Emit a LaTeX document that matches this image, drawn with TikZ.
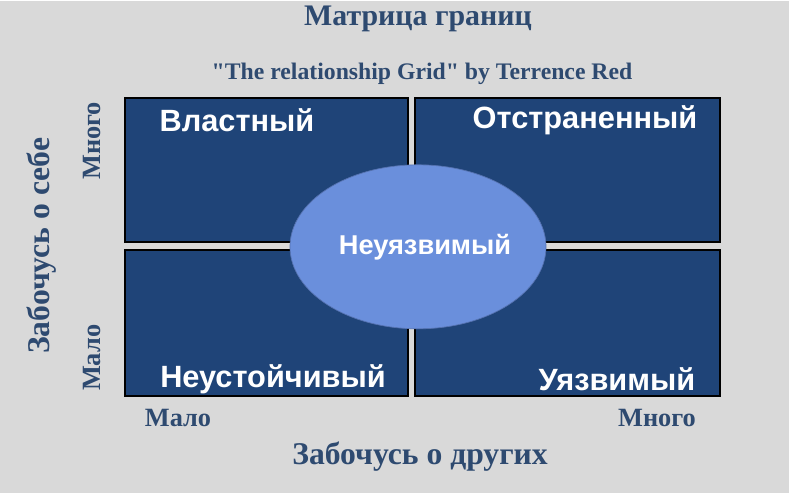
\documentclass[tikz,border=0pt]{standalone}
\usepackage{fontspec}
\setmainfont{Liberation Serif}
\setsansfont{Liberation Sans}
\newfontfamily\plainserif{Liberation Serif}
\usetikzlibrary{positioning}
\definecolor{bgGray}{HTML}{D9D9D9}
\definecolor{boxBlue}{HTML}{1F4478}
\definecolor{ovalBlue}{HTML}{6A8FDC}
\definecolor{titleBlue}{HTML}{2E4A70}
\tikzset{
	quad/.style = {draw = black, thick, fill = boxBlue},
	quadlabel/.style = {text = white, font = \sffamily\bfseries\fontsize{17.5}{20}\selectfont},
	axislabel/.style = {text = titleBlue, font = \bfseries\fontsize{15}{17}\selectfont}
}
\begin{document}
\begin{tikzpicture}[x = 0.02cm, y = -0.02cm]
	\fill[bgGray] (0, 0) rectangle (789, 492);
	
	\node[text = titleBlue, font = \bfseries\fontsize{17}{19}\selectfont] (title) at (418, 18) {Матрица границ};
	\node[text = titleBlue, font = \plainserif\bfseries\fontsize{13.5}{15}\selectfont] (subtitle) at (422, 73) {"The relationship Grid" by Terrence Red};
	
	\draw[quad] (125, 97) rectangle (408, 241);
	\draw[quad] (415, 97) rectangle (720, 241);
	\draw[quad] (125, 249) rectangle (408, 395);
	\draw[quad] (415, 249) rectangle (720, 395);
	
	\node[quadlabel] (bossy) at (237, 119) {Властный};
	\node[quadlabel] (aloof) at (585, 119) {Отстраненный};
	\node[quadlabel] (unstable) at (273, 378) {Неустойчивый};
	\node[quadlabel] (vulnerable) at (617, 378) {Уязвимый};
	
	\draw[fill = ovalBlue, draw = ovalBlue!80!black] (418, 246) ellipse (128 and 82);
	\node[text = white, font = \sffamily\bfseries\fontsize{15.5}{18}\selectfont] (invuln) at (425, 246) {Неуязвимый};
	
	\node[axislabel] (xlow) at (178, 417) {Мало};
	\node[axislabel] (xhigh) at (657, 417) {Много};
	\node[axislabel, font = \bfseries\fontsize{18}{20}\selectfont] (xaxis) at (420, 456) {Забочусь о других};
	
	\node[axislabel, rotate = 90, font = \bfseries\fontsize{18}{20}\selectfont] (yaxis) at (42, 245) {Забочусь о себе};
	\node[axislabel, rotate = 90] (yhigh) at (92, 140) {Много};
	\node[axislabel, rotate = 90] (ylow) at (92, 357) {Мало};
\end{tikzpicture}
\end{document}
